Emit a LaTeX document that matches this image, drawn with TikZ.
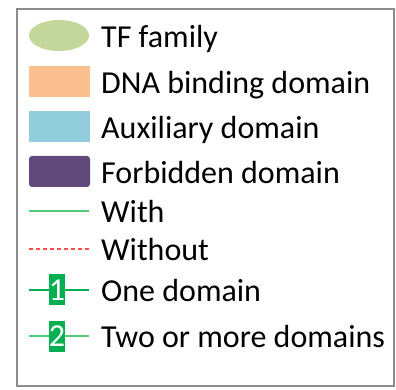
\documentclass[tikz,border=0pt]{standalone}
\usepackage{fontspec}
\setmainfont{Carlito}
\usepackage{xcolor}
\usepackage{tikz}
\usetikzlibrary{positioning}
\usetikzlibrary{shapes.geometric}

\definecolor{tfgreen}{RGB}{196,215,155}
\definecolor{dnaorange}{RGB}{250,192,144}
\definecolor{auxblue}{RGB}{146,205,220}
\definecolor{forbpurple}{RGB}{96,74,123}
\definecolor{withgreen}{RGB}{80,200,120}
\definecolor{withoutred}{RGB}{255,80,80}
\definecolor{boxgreen}{RGB}{0,176,80}
\definecolor{framegray}{RGB}{140,140,140}

\begin{document}
\begin{tikzpicture}[x=1pt,y=1pt,
  swatch/.style={minimum width=61pt, minimum height=31pt, inner sep=0pt},
  legendtext/.style={anchor=base west, inner sep=0pt, font=\fontsize{32}{38}\selectfont},
  numbox/.style={fill=boxgreen, text=white, minimum width=16pt, minimum height=31pt, inner sep=0pt, font=\fontsize{32}{38}\selectfont}]
\useasboundingbox (0,0) rectangle (396,390);
\draw [framegray, line width=1.5pt] (17,4) rectangle (394,381);

\node [swatch, ellipse, fill=tfgreen, minimum width=60pt] (tf) at (59,354.5) {};
\node [swatch, fill=dnaorange] (dna) at (59.5,308.5) {};
\node [swatch, fill=auxblue] (aux) at (59.5,263.5) {};
\node [swatch, fill=forbpurple, rounded corners=3pt] (forb) at (59.5,218.5) {};

\coordinate (w1) at (29,179);  \coordinate (w2) at (89,179);
\coordinate (wo1) at (29,141); \coordinate (wo2) at (89,141);
\coordinate (o1) at (29,100);  \coordinate (o2) at (89,100);
\coordinate (t1) at (29,54);   \coordinate (t2) at (89,54);

\draw [draw=withgreen, line width=1.2pt] (w1) -- (w2);
\draw [draw=withoutred, line width=1.2pt, dash pattern=on 4pt off 3pt] (wo1) -- (wo2);
\draw [draw=boxgreen, line width=1.2pt] (o1) -- (o2);
\draw [draw=withgreen, line width=1.2pt] (t1) -- (t2);
\node [numbox] (one) at (57,100) {1};
\node [numbox] (two) at (57,53.5) {2};

% labels
\node [legendtext] (tftext) at (101,342.5) {TF family};
\node [legendtext] (dnatext) at (101,296.5) {DNA binding domain};
\node [legendtext] (auxtext) at (101,251.5) {Auxiliary domain};
\node [legendtext] (forbtext) at (101,206.5) {Forbidden domain};
\node [legendtext] (withtext) at (101,167) {With};
\node [legendtext] (withouttext) at (101,129) {Without};
\node [legendtext] (onetext) at (101,88) {One domain};
\node [legendtext] (twotext) at (101,42) {Two or more domains};
\end{tikzpicture}
\end{document}
